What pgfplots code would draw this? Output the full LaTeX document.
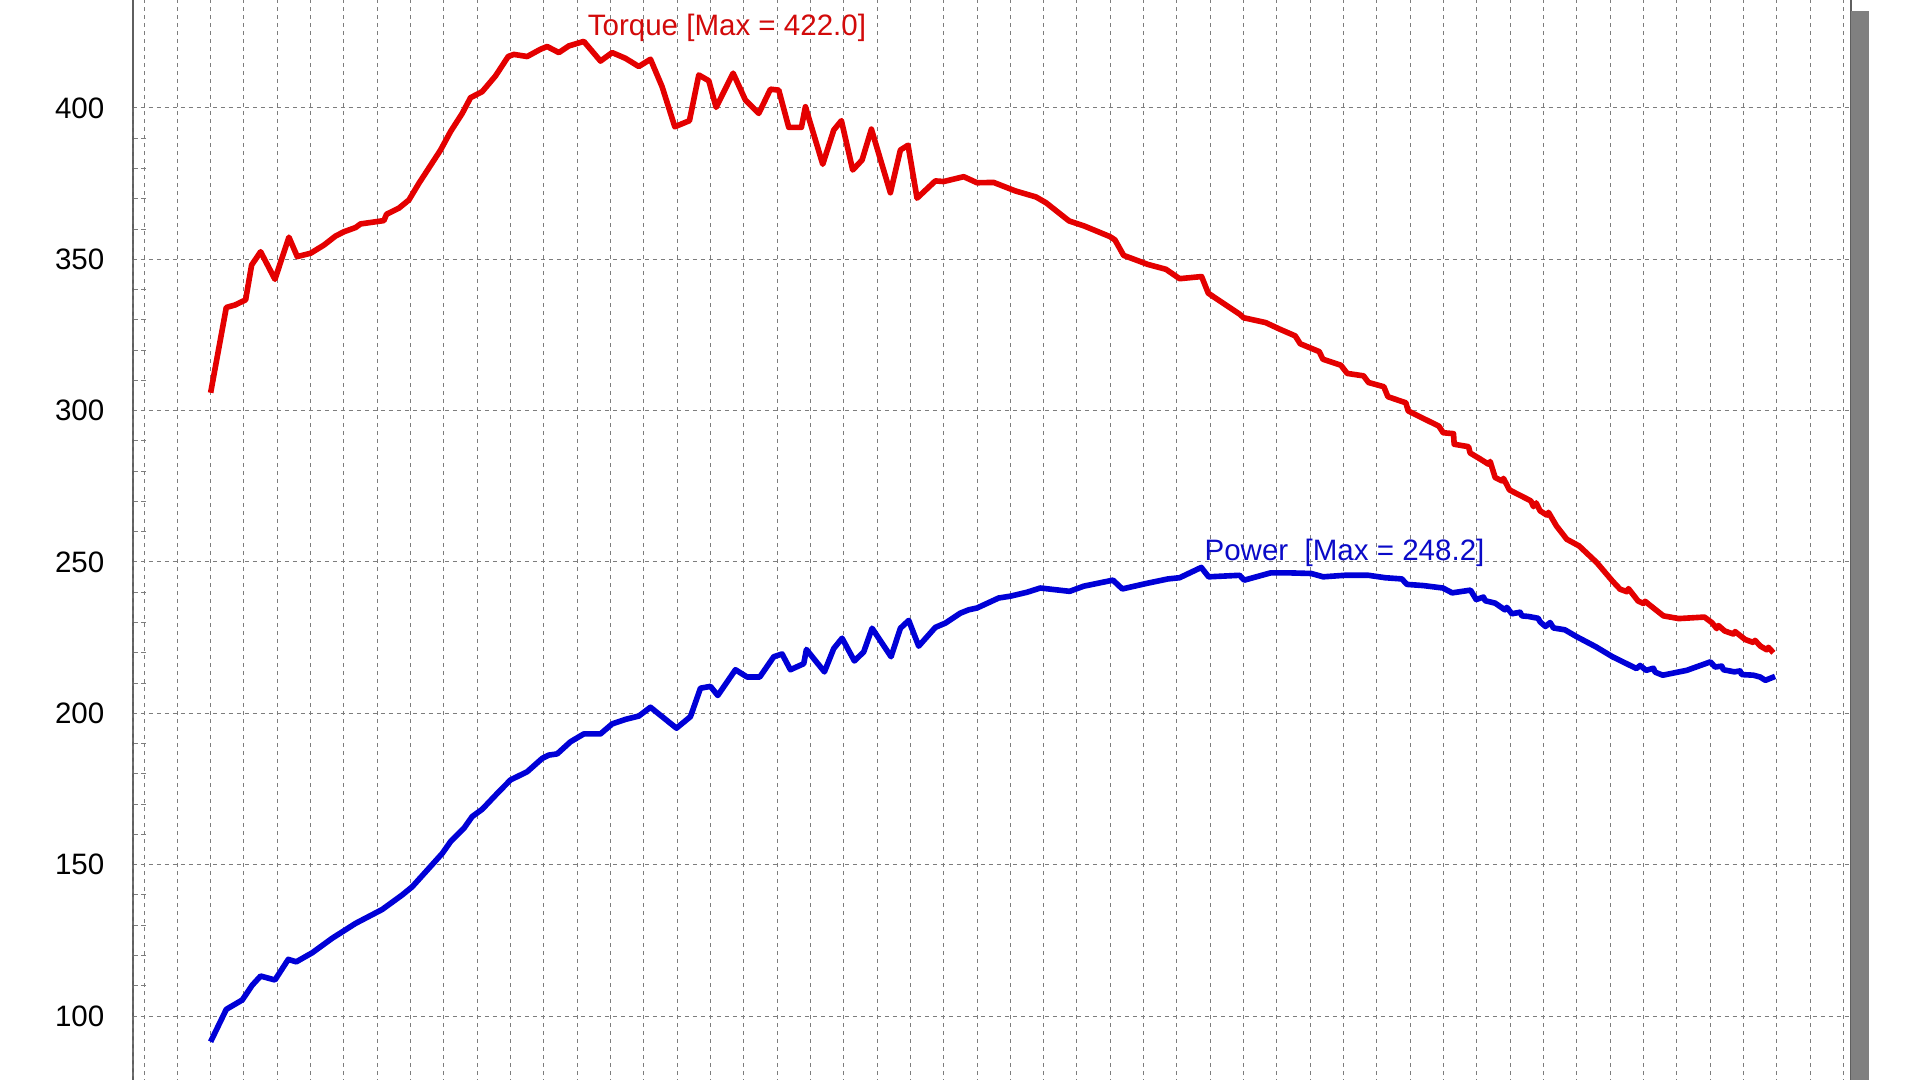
\documentclass[border=0pt]{standalone}
\usepackage{fontspec}
\setmainfont{Liberation Sans}
\usepackage{pgfplots}
\pgfplotsset{compat=1.18}
\definecolor{gridgray}{RGB}{125,125,125}
\definecolor{axisgray}{RGB}{95,95,95}
\definecolor{torquered}{RGB}{228,0,0}
\definecolor{torquetext}{RGB}{210,10,10}
\definecolor{powerblue}{RGB}{0,0,215}
\definecolor{powertext}{RGB}{10,10,200}
\definecolor{shadowgray}{RGB}{128,128,128}
\begin{document}
\begin{tikzpicture}
\useasboundingbox (0,0) rectangle (19.2,10.8);
\fill[white] (0,0) rectangle (19.2,10.8);
\clip (0,0) rectangle (19.2,10.8);
\begin{axis}[
  at={(1.33cm,-0.268cm)}, anchor=south west,
  scale only axis, width=17.18cm, height=11.35cm,
  xmin=-0.33, xmax=51.23, ymin=70, ymax=445,
  xtick={0,...,51}, xticklabels={},
  ytick={100,150,...,400}, minor y tick num=4,
  ytick pos=left, xtick pos=bottom,
  xmajorgrids, ymajorgrids,
  major grid style={gridgray, line width=0.28pt, dash pattern=on 0.04cm off 0.04cm},
  tick align=inside,
  major tick length=0pt,
  minor tick length=0.14cm,
  minor tick style={gridgray, line width=0.28pt, dash pattern=on 0.05cm off 0.03cm},
  axis line style={axisgray, line width=0.35pt},
  yticklabel style={font=\fontsize{8.4}{10}\selectfont, anchor=east, inner sep=0pt, xshift=-0.28cm},
  /pgf/number format/assume math mode=true,
  clip=false,
  no markers,
]
\draw[axisgray, line width=0.6pt] (rel axis cs:0,0) -- (rel axis cs:0,1);
\pgfplotsinvokeforeach{100,150,200,250,300,350,400}{
  \draw[gridgray, line width=0.28pt, dash pattern=on 0.04cm off 0.04cm] (axis cs:-0.33,#1) -- ++(-0.11cm,0);
}
\addplot[torquered, line width=1.6pt, line join=round] coordinates {
(2.0,305.9) (2.47,334.1) (2.73,334.9) (3.05,336.6) (3.23,348.1) (3.5,352.5)
(3.93,343.4) (4.35,357.3) (4.6,350.9) (5.0,352.0) (5.4,354.7) (5.75,357.7)
(6.0,359.1) (6.35,360.5) (6.5,361.7) (6.95,362.4) (7.2,362.8) (7.28,364.9)
(7.65,366.9) (7.95,369.6) (8.25,375.1) (8.9,386.1) (9.2,392.2) (9.55,398.2)
(9.8,403.4) (10.15,405.4) (10.55,410.6) (10.93,417.0) (11.1,417.7) (11.5,417.0)
(11.9,419.4) (12.1,420.3) (12.45,418.3) (12.75,420.5) (13.2,422.0) (13.7,415.5)
(14.05,418.3) (14.45,416.4) (14.85,413.7) (15.2,416.1) (15.55,407.0) (15.93,393.8)
(16.37,395.8) (16.65,410.9) (16.95,409.0) (17.17,400.2) (17.68,411.5) (18.05,402.6)
(18.45,398.2) (18.8,406.2) (19.05,405.9) (19.35,393.6) (19.73,393.6) (19.85,400.4)
(20.37,381.4) (20.7,392.7) (20.93,395.8) (21.27,379.5) (21.55,382.8) (21.83,393.0)
(22.4,372.0) (22.7,386.1) (22.93,387.7) (23.2,370.2) (23.75,375.9) (24.0,375.7)
(24.6,377.3) (25.0,375.3) (25.5,375.4) (26.15,372.6) (26.77,370.6) (27.07,368.7)
(27.76,362.7) (28.22,361.0) (28.99,357.5) (29.14,356.4) (29.4,351.3) (30.13,348.3)
(30.67,346.7) (31.08,343.6) (31.74,344.3) (31.94,338.8) (32.89,331.8) (33.0,330.7)
(33.66,329.1) (34.09,326.9) (34.55,324.7) (34.7,322.1) (35.27,319.5) (35.38,317.0)
(35.92,315.0) (36.11,312.3) (36.6,311.5) (36.75,309.3) (37.21,307.9) (37.33,304.6)
(37.87,302.6) (37.94,299.9) (38.25,298.2) (38.86,294.9) (38.99,292.7) (39.3,292.4)
(39.32,288.9) (39.75,288.1) (39.8,286.0) (40.09,284.1) (40.35,282.3) (40.4,283.2)
(40.55,277.9) (40.75,276.8) (40.8,277.6) (40.98,273.8) (41.3,272.0) (41.62,270.2)
(41.7,268.3) (41.78,269.5) (41.9,266.9) (42.1,265.5) (42.15,266.4) (42.39,261.9)
(42.7,257.5) (43.07,255.3) (43.6,249.8) (44.07,243.7) (44.3,241.0) (44.5,240.2)
(44.55,241.2) (44.84,237.1) (45.0,236.3) (45.05,237.0) (45.22,235.5) (45.6,232.2)
(46.06,231.3) (46.83,231.8) (47.06,229.9) (47.2,228.0) (47.25,229.0) (47.44,227.2)
(47.7,226.2) (47.75,227.0) (48.05,224.4) (48.3,223.4) (48.35,224.1) (48.51,222.2)
(48.7,221.0) (48.75,221.8) (48.9,220.0)
};
\addplot[powerblue, line width=1.6pt, line join=round] coordinates {
(2.0,91.5) (2.47,102.2) (2.95,105.3) (3.25,110.2) (3.5,113.2) (3.93,111.9)
(4.33,118.7) (4.57,117.9) (5.05,120.9) (5.65,125.7) (6.35,130.6) (7.15,135.2)
(7.75,140.0) (8.05,142.7) (8.55,148.8) (8.95,153.7) (9.2,157.6) (9.6,162.0)
(9.85,165.9) (10.15,168.3) (10.65,174.1) (11.0,178.0) (11.5,180.7) (11.95,185.1)
(12.15,186.2) (12.4,186.6) (12.8,190.6) (13.2,193.2) (13.7,193.2) (14.05,196.5)
(14.45,198.0) (14.85,199.1) (15.2,202.0) (15.98,195.1) (16.4,198.9) (16.7,208.3)
(17.0,208.9) (17.22,205.9) (17.75,214.4) (18.1,212.0) (18.48,212.0) (18.9,218.7)
(19.15,219.6) (19.4,214.4) (19.8,216.4) (19.88,221.1) (20.42,213.7) (20.7,221.4)
(20.95,224.8) (21.32,217.3) (21.6,220.3) (21.85,228.1) (22.42,218.7) (22.7,228.1)
(22.95,230.7) (23.25,222.2) (23.75,228.4) (24.05,229.8) (24.5,233.1) (24.75,234.2)
(25.0,234.8) (25.65,238.1) (26.0,238.7) (26.5,240.0) (26.9,241.4) (27.3,240.9)
(27.78,240.3) (28.2,242.0) (29.08,244.0) (29.36,241.1) (30.08,242.9) (30.73,244.4)
(31.08,244.8) (31.73,248.2) (31.95,245.1) (32.88,245.6) (33.02,244.0) (33.81,246.4)
(34.38,246.4) (35.03,246.2) (35.39,245.1) (36.03,245.6) (36.75,245.6) (37.25,244.8)
(37.75,244.4) (37.9,242.6) (38.4,242.2) (38.98,241.4) (39.26,239.8) (39.81,240.7)
(39.98,237.6) (40.2,238.4) (40.25,237.2) (40.55,236.4) (40.84,234.2) (40.9,235.0)
(41.05,232.9) (41.3,233.4) (41.35,232.2) (41.55,232.0) (41.84,231.4) (41.9,230.2)
(42.06,228.7) (42.2,230.0) (42.3,228.2) (42.64,227.6) (43.0,225.3) (43.57,222.0)
(44.07,218.7) (44.79,214.8) (44.9,215.8) (45.08,214.2) (45.3,214.9) (45.35,213.6)
(45.58,212.6) (46.3,214.2) (47.01,217.0) (47.15,215.3) (47.35,215.6) (47.4,214.4)
(47.73,213.7) (47.9,214.0) (47.95,212.8) (48.3,212.6) (48.5,212.0) (48.66,210.9)
(48.95,212.2)
};
\node[anchor=base west, text=torquetext, font=\fontsize{8.4}{10}\selectfont, inner sep=0pt] at (axis cs:13.3,424.1) {Torque [Max = 422.0]};
\node[anchor=base west, text=powertext, font=\fontsize{8.4}{10}\selectfont, inner sep=0pt] at (axis cs:31.81,250.4) {Power\ \ [Max = 248.2]};
\end{axis}
\fill[shadowgray] (18.51,0) rectangle (18.69,10.69);
\end{tikzpicture}
\end{document}
